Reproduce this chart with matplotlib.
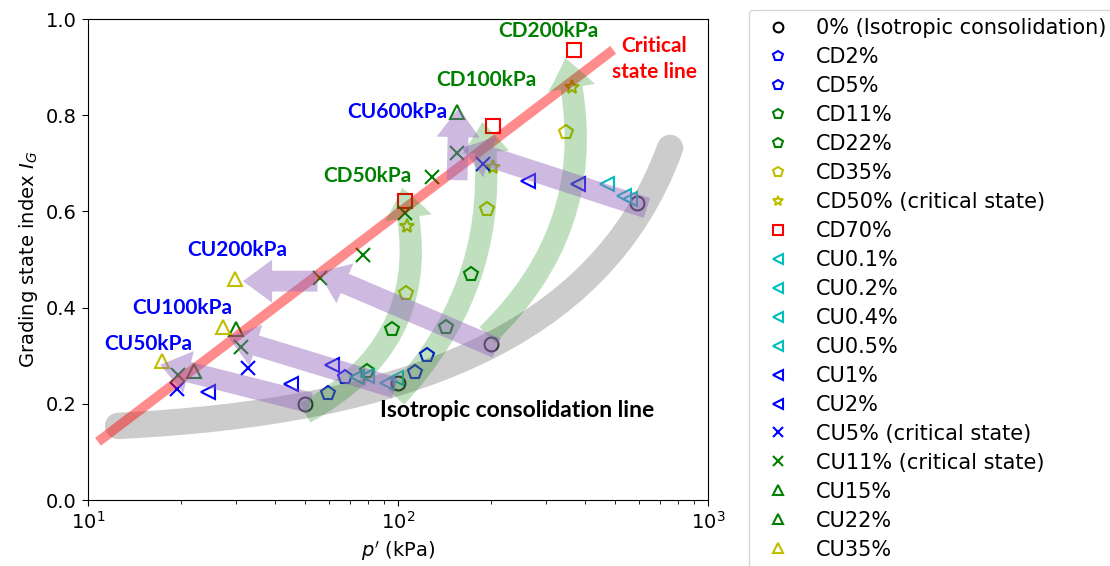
import matplotlib
matplotlib.use('Agg')
import matplotlib.pyplot as plt
from matplotlib.patches import FancyArrowPatch, PathPatch
from matplotlib.path import Path

# p' (kPa) and grading state index I_G for every series
p_iso = [50, 100, 200, 590]
ig_iso = [0.200, 0.244, 0.324, 0.617]
p_cd2 = [59.4, 113.5]
ig_cd2 = [0.222, 0.266]
p_cd5 = [67.5, 124]
ig_cd5 = [0.256, 0.301]
p_cd11 = [79.4, 143]
ig_cd11 = [0.268, 0.360]
p_cd22 = [95.7, 172]
ig_cd22 = [0.356, 0.470]
p_cd35 = [106, 194, 348]
ig_cd35 = [0.430, 0.605, 0.765]
p_cd50 = [107, 202, 364]
ig_cd50 = [0.570, 0.692, 0.859]
p_cd70 = [105, 202, 370]
ig_cd70 = [0.622, 0.778, 0.936]
p_cu01 = [98.4, 559]
ig_cu01 = [0.253, 0.626]
p_cu02 = [92.3, 534]
ig_cu02 = [0.243, 0.632]
p_cu04 = [79.4]
ig_cu04 = [0.258]
p_cu05 = [73.8, 472]
ig_cu05 = [0.256, 0.657]
p_cu1 = [45.2, 61.2, 381]
ig_cu1 = [0.241, 0.281, 0.657]
p_cu2 = [24.4, 262]
ig_cu2 = [0.225, 0.663]
p_cu5 = [19.4, 32.8, 188]
ig_cu5 = [0.231, 0.274, 0.699]
p_cu11 = [19.5, 31.2, 56.0, 77.0, 105.4, 129, 155]
ig_cu11 = [0.260, 0.318, 0.462, 0.509, 0.597, 0.671, 0.721]
p_cu15 = [22.0, 30.0]
ig_cu15 = [0.268, 0.355]
p_cu22 = [155]
ig_cu22 = [0.807]
p_cu35 = [17.3, 27.2, 29.8]
ig_cu35 = [0.289, 0.360, 0.459]

series = [
    ('0% (Isotropic consolidation)', p_iso, ig_iso, 'o', 'k'),
    ('CD2%', p_cd2, ig_cd2, 'p', 'b'),
    ('CD5%', p_cd5, ig_cd5, 'p', 'b'),
    ('CD11%', p_cd11, ig_cd11, 'p', 'g'),
    ('CD22%', p_cd22, ig_cd22, 'p', 'g'),
    ('CD35%', p_cd35, ig_cd35, 'p', 'y'),
    ('CD50% (critical state)', p_cd50, ig_cd50, '*', 'y'),
    ('CD70%', p_cd70, ig_cd70, 's', 'r'),
    ('CU0.1%', p_cu01, ig_cu01, '<', 'c'),
    ('CU0.2%', p_cu02, ig_cu02, '<', 'c'),
    ('CU0.4%', p_cu04, ig_cu04, '<', 'c'),
    ('CU0.5%', p_cu05, ig_cu05, '<', 'c'),
    ('CU1%', p_cu1, ig_cu1, '<', 'b'),
    ('CU2%', p_cu2, ig_cu2, '<', 'b'),
    ('CU5% (critical state)', p_cu5, ig_cu5, 'x', 'b'),
    ('CU11% (critical state)', p_cu11, ig_cu11, 'x', 'g'),
    ('CU15%', p_cu15, ig_cu15, '^', 'g'),
    ('CU22%', p_cu22, ig_cu22, '^', 'g'),
    ('CU35%', p_cu35, ig_cu35, '^', 'y'),
]

plt.rcParams['font.size'] = 14

fig = plt.figure(figsize=(11.1, 5.66), dpi=100)
ax = fig.add_axes([0.0793, 0.1166, 0.5586, 0.8498])

for label, p, ig, m, c in series:
    ax.plot(p, ig, linestyle='none', marker=m, markersize=10, mfc='none',
            mec=c, mew=1.5, label=label, zorder=2)

ax.set_xscale('log')
ax.set_xlim(10, 1000)
ax.set_ylim(0, 1.0)
ax.set_xlabel("$p'$ (kPa)")
ax.set_ylabel('Grading state index $I_G$')
ax.tick_params(which='major', length=4.5)
ax.tick_params(which='minor', length=2.8)

# isotropic consolidation band (grey)
iso_path = Path([(12.5, 0.154), (101.5, 0.183), (449, 0.333), (754, 0.732)],
                [Path.MOVETO, Path.CURVE4, Path.CURVE4, Path.CURVE4])
ax.add_patch(PathPatch(iso_path, fill=False, edgecolor='gray', alpha=0.4,
                       lw=19, capstyle='round', zorder=3))

# critical state line
ax.plot([10.77, 494], [0.121, 0.936], color='red', alpha=0.45, lw=7,
        solid_capstyle='butt', zorder=3)


def band_arrow(start, end, color, alpha, rad=0.0, tail=15, head_w=31, head_l=21):
    style = f'simple,head_length={head_l},head_width={head_w},tail_width={tail}'
    arr = FancyArrowPatch(start, end, arrowstyle=style,
                          connectionstyle=f'arc3,rad={rad}', mutation_scale=1,
                          shrinkA=0, shrinkB=0, color=color, alpha=alpha,
                          lw=0, zorder=3)
    ax.add_patch(arr)


# drained paths (green)
band_arrow((50.1, 0.181), (103, 0.649), 'green', 0.25, rad=0.39, tail=16, head_w=34, head_l=22)
band_arrow((98.5, 0.214), (187, 0.786), 'green', 0.25, rad=0.24, tail=16, head_w=34, head_l=22)
band_arrow((194, 0.343), (346, 0.919), 'green', 0.25, rad=0.29, tail=16, head_w=34, head_l=22)

# undrained paths (purple)
purple = '#9467bd'
band_arrow((52.1, 0.202), (17.1, 0.281), purple, 0.45)
band_arrow((97.8, 0.233), (28.3, 0.339), purple, 0.45)
band_arrow((208, 0.316), (55.2, 0.474), purple, 0.45)
band_arrow((55.0, 0.455), (31.6, 0.455), purple, 0.45)
band_arrow((635, 0.607), (161, 0.732), purple, 0.45)
band_arrow((155, 0.665), (157, 0.815), purple, 0.45)

lab = dict(fontweight='bold', family=['Lato', 'DejaVu Sans'], fontsize=15,
           ha='center', va='center', zorder=5)
ax.text(99.3, 0.807, 'CU600kPa', color='blue', **lab)
ax.text(192, 0.873, 'CD100kPa', color='green', **lab)
ax.text(305, 0.975, 'CD200kPa', color='green', **lab)
ax.text(672, 0.917, 'Critical\nstate line', color='red', linespacing=1.35, **lab)
ax.text(79.4, 0.674, 'CD50kPa', color='green', **lab)
ax.text(30.2, 0.520, 'CU200kPa', color='blue', **lab)
ax.text(20.1, 0.399, 'CU100kPa', color='blue', **lab)
ax.text(15.6, 0.324, 'CU50kPa', color='blue', **lab)
lab['fontsize'] = 16.5
ax.text(242, 0.187, 'Isotropic consolidation line', color='black', **lab)

fig.legend(loc='upper left', bbox_to_anchor=(749 / 1110, 1 - 10 / 566),
           fontsize=15, labelspacing=0.43, markerscale=0.7, borderaxespad=0)

fig.savefig('out.png', dpi=100)
